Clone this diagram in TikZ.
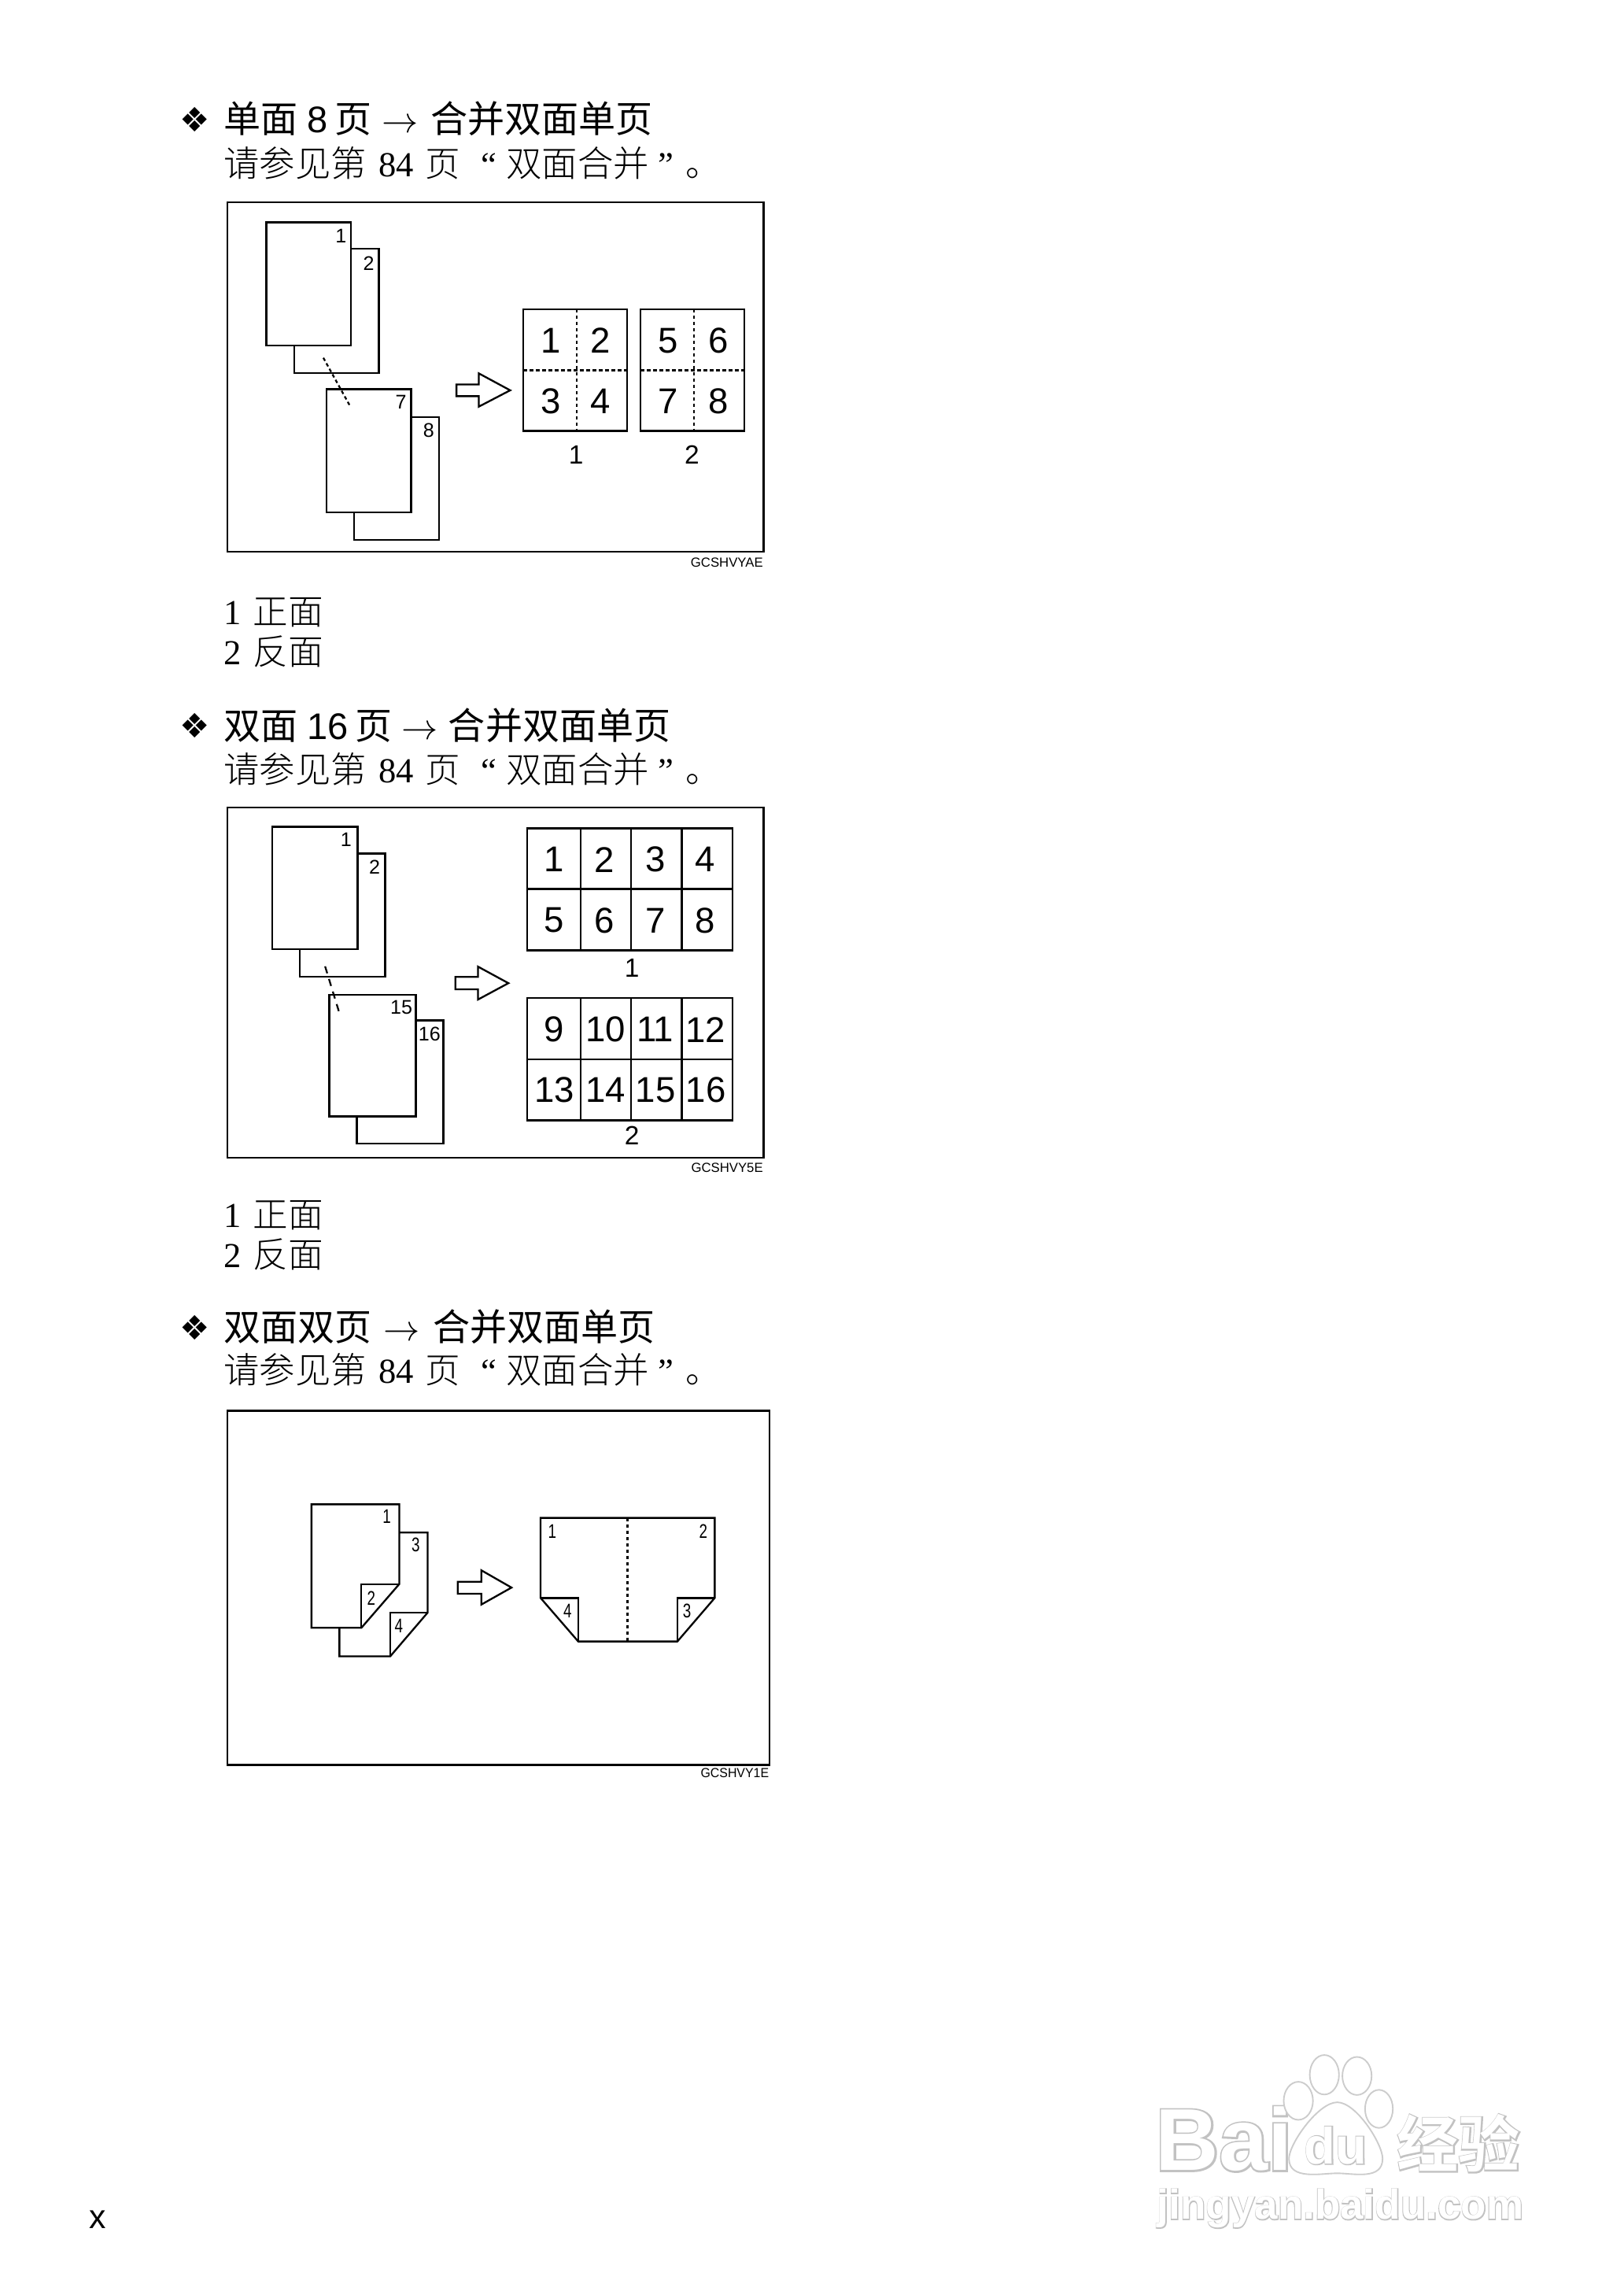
\documentclass[tikz,border=0pt]{standalone}
\usepackage{fontspec}
\setmainfont{Liberation Serif}
\newfontfamily\hv{Liberation Sans}
\newfontfamily\hvb{Liberation Sans Bold}
\newfontfamily\hvhalo{Liberation Sans Bold}[FakeBold=4]
\newfontfamily\cjks{Noto Sans CJK SC}
\newfontfamily\cjkb{Noto Sans CJK SC Bold}
\newfontfamily\cjkl{Noto Sans CJK SC Light}
\newfontfamily\cjkhalo{Noto Sans CJK SC Bold}[FakeBold=4]
\newfontfamily\djv{DejaVu Sans}
\newcommand\fs[1]{\fontsize{#1}{#1}\selectfont}
\newcommand\hgap[1]{\hspace*{#1pt}}
\newcommand\arr{$\rightarrow$}
\newcommand\bodyline{{\fs{24.4}\cjkl 请参见第}\hgap{8.2}84\hgap{8}{\cjkl 页}\hgap{14}“\hgap{6.5}{\fs{24.4}\cjkl 双面合并}\hgap{6.5}”\hgap{8}{\cjkl 。}}
\tikzset{
  txt/.style={inner sep=0pt,outer sep=0pt},
  head/.style={txt,anchor=base west,font=\fs{25.3}\cjks},
  body/.style={txt,anchor=base west,font=\fs{24}},
  small/.style={txt,font=\fs{13.5}\hv},
  big/.style={txt,font=\fs{24.5}\hv},
  mid/.style={txt,font=\fs{18}\hv},
  code/.style={txt,anchor=base east,font=\fs{9}\hv},
  bul/.style={txt,font=\fs{23}\djv},
  ln/.style={line width=1.25pt,line join=miter,line cap=butt},
  fine/.style={line width=1.2pt,dash pattern=on 2.4pt off 1.9pt},
  longd/.style={line width=1.2pt,dash pattern=on 5pt off 4pt},
  halo/.style={txt,text=black!24},
  wm/.style={txt,text=white},
  wml/.style={draw=black!20,line width=1pt,fill=white}
}
\begin{document}
\begin{tikzpicture}[x=1pt,y=-1pt]
\useasboundingbox (0,0) rectangle (1110,1568.2);
\fill[white] (0,0) rectangle (1110,1568.2);

% ---------- section 1
\node[bul] (b1) at (133,82) {❖};
\node[head] (h1) at (153,90.6) {单面\hgap{6.4}{\hv 8}\hgap{5}页\hgap{6.7}\arr\hgap{8.5}合并双面单页};
\node[body] (l1) at (153,120.6) {\bodyline};
\draw[ln] (155.5,138.3) rectangle (522,377);
\node[code] (c1) at (521.5,387.5) {GCSHVYAE};
\draw[ln,fill=white] (201,236) -- (201,255) -- (259,255) -- (259,170) -- (240,170);
\draw[ln,fill=white] (182,152) rectangle (240,236);
\node[small] (p1) at (233,161) {1};
\node[small] (p2) at (252,180) {2};
\draw[ln,fill=white] (242,350) -- (242,369) -- (300,369) -- (300,285) -- (281,285);
\draw[ln,fill=white] (223,266) rectangle (281,350);
\node[small] (p7) at (274,275) {7};
\node[small] (p8) at (293,294) {8};
\draw[fine] (221,244.5) -- (239,277);
\draw[ln] (312,262.7) -- (327.2,262.7) -- (327.2,255.1) -- (348.7,266.7) -- (327.2,277.9) -- (327.2,270.7) -- (312,270.7) -- cycle;
\draw[ln] (357.7,211.2) rectangle (428.6,294.5);
\draw[fine] (394,211.2) -- (394,294.5);
\draw[fine] (357.7,253) -- (428.6,253);
\draw[ln] (437.9,211.2) rectangle (508.9,294.5);
\draw[fine] (474.2,211.2) -- (474.2,294.5);
\draw[fine] (437.9,253) -- (508.9,253);
\foreach \t/\x/\y in {1/376.5/232.9,2/410.6/232.9,3/376.5/274.2,4/410.6/274.2,5/456.8/232.9,6/490.9/232.9,7/456.8/274.2,8/490.9/274.2}
  \node[big] (a\t) at (\x,\y) {\t};
\node[mid] (s1) at (393.7,310.9) {1};
\node[mid] (s2) at (473,310.9) {2};
\node[body] (g1) at (153,427) {1\hgap{8}{\cjkl 正面}};
\node[body] (g2) at (153,454) {2\hgap{8}{\cjkl 反面}};

% ---------- section 2
\node[bul] (b2) at (133,496) {❖};
\node[head] (h2) at (153,505.4) {双面\hgap{6.4}{\hv 16}\hgap{4.5}页\hgap{6.7}\arr\hgap{7}合并双面单页};
\node[body] (l2) at (153,534.8) {\bodyline};
\draw[ln] (155.5,551.7) rectangle (522,791);
\node[code] (c2) at (521.5,800.8) {GCSHVY5E};
\draw[ln,fill=white] (205,648.5) -- (205,667.5) -- (263.3,667.5) -- (263.3,583.3) -- (244.5,583.3);
\draw[ln,fill=white] (185.9,564.9) rectangle (244.5,648.5);
\node[small] (q1) at (236.6,573.7) {1};
\node[small] (q2) at (256,592.5) {2};
\draw[ln,fill=white] (243.9,762.9) -- (243.9,781.4) -- (303,781.4) -- (303,697.2) -- (284.2,697.2);
\draw[ln,fill=white] (225,679.6) rectangle (284.2,762.9);
\node[small] (q15) at (274.3,688.1) {15};
\node[small] (q16) at (293.5,706.4) {16};
\draw[longd] (222.2,660.3) -- (232.6,694.3);
\draw[ln] (311.2,667.5) -- (326.7,667.5) -- (326.7,660.5) -- (347.5,671.8) -- (326.7,683) -- (326.7,676) -- (311.2,676) -- cycle;
\draw[ln] (360.2,566) rectangle (500.7,649.3);
\draw[ln] (360.2,607.5) -- (500.7,607.5);
\draw[ln] (396.8,566) -- (396.8,649.3) (431.4,566) -- (431.4,649.3) (466,566) -- (466,649.3);
\draw[ln] (360.2,682) rectangle (500.7,765.6);
\draw[ln] (360.2,723.8) -- (500.7,723.8);
\draw[ln] (396.8,682) -- (396.8,765.6) (431.4,682) -- (431.4,765.6) (466,682) -- (466,765.6);
\foreach \t/\x/\y in {1/378.8/587.4,2/413.1/587.4,3/447.8/587.4,4/481.9/587.4,5/378.8/628.9,6/413.1/628.9,7/447.8/628.9,8/481.9/628.9,9/378.8/703.5,10/413.8/703.5,11/447.8/703.5,12/482.2/703.5,13/379/744.7,14/413.8/744.7,15/448/744.7,16/482.4/744.7}
  \node[big] (d\t) at (\x,\y) {\t};
\node[mid] (t1) at (432,661.6) {1};
\node[mid] (t2) at (432,776) {2};
\node[body] (g3) at (153,838.5) {1\hgap{8}{\cjkl 正面}};
\node[body] (g4) at (153,866) {2\hgap{8}{\cjkl 反面}};

% ---------- section 3
\node[bul] (b3) at (133,907) {❖};
\node[head] (h3) at (153,916) {双面双页\hgap{8}\arr\hgap{9}合并双面单页};
\node[body] (l3) at (153,945) {\bodyline};
\draw[ln] (155.5,964) rectangle (526,1206);
\node[code] (c3) at (525.5,1214.5) {\scalebox{.95}[1]{GCSHVY1E}};
\draw[ln,fill=white] (232,1112.3) -- (232,1131.8) -- (266.7,1131.8) -- (292.3,1101.9) -- (292.3,1047.2) -- (272.9,1047.2);
\draw[ln] (266.7,1131.8) -- (266.7,1101.9) -- (292.3,1101.9);
\draw[ln,fill=white] (212.9,1027.9) -- (272.9,1027.9) -- (272.9,1082.4) -- (247,1112.3) -- (212.9,1112.3) -- cycle;
\draw[ln] (247,1112.3) -- (247,1082.4) -- (272.9,1082.4);
\node[small] (r1) at (264.4,1036.3) {\scalebox{.75}[1]{1}};
\node[small] (r3) at (284.2,1055.6) {\scalebox{.75}[1]{3}};
\node[small] (r2) at (253.8,1091.9) {\scalebox{.75}[1]{2}};
\node[small] (r4) at (272.6,1111.2) {\scalebox{.75}[1]{4}};
\draw[ln] (312.9,1080.8) -- (329,1080.8) -- (329,1073) -- (349.6,1084.8) -- (329,1096.4) -- (329,1089) -- (312.9,1089) -- cycle;
\draw[ln] (369.5,1037.2) -- (488.5,1037.2) -- (488.5,1091.9) -- (463,1121.6) -- (395.2,1121.6) -- (369.5,1091.9) -- cycle;
\draw[ln] (369.5,1091.9) -- (395.2,1091.9) -- (395.2,1121.6);
\draw[ln] (488.5,1091.9) -- (463,1091.9) -- (463,1121.6);
\draw[fine] (428.9,1037.2) -- (428.9,1121.6);
\node[small] (u1) at (377.4,1046.5) {\scalebox{.75}[1]{1}};
\node[small] (u2) at (480.7,1046.5) {\scalebox{.75}[1]{2}};
\node[small] (u4) at (388,1101) {\scalebox{.75}[1]{4}};
\node[small] (u3) at (469.5,1101) {\scalebox{.75}[1]{3}};

% ---------- page mark
\node[txt,anchor=base west,font=\fs{23}\hv] (pg) at (61,1523) {x};

% ---------- watermark
\node[halo,anchor=base west,font=\fs{60}\hvhalo] (wa) at (790,1483) {Bai};
\node[wm,anchor=base west,font=\fs{60}\hvb] (wb) at (790,1483) {Bai};
\draw[wml] (887.4,1435.5) ellipse (10 and 13);
\draw[wml] (905.2,1417.7) ellipse (10 and 13.5);
\draw[wml] (927.5,1418.5) ellipse (10 and 13);
\draw[wml] (942.5,1441) ellipse (9.5 and 13);
\draw[wml] (914,1436.5) .. controls (927,1436.5) and (945,1465) .. (945,1475)
   .. controls (945,1490) and (925,1485) .. (914,1485)
   .. controls (903,1485) and (881,1490) .. (881,1475)
   .. controls (881,1465) and (901,1436.5) .. (914,1436.5) -- cycle;
\node[halo,font=\fs{35}\hvhalo] (wc) at (913,1466) {du};
\node[wm,font=\fs{35}\hvb] (wd) at (913,1466) {du};
\node[halo,anchor=base west,font=\fs{42}\cjkhalo] (we) at (955,1481) {经验};
\node[wm,anchor=base west,font=\fs{42}\cjkb] (wf) at (955,1481) {经验};
\node[halo,anchor=base west,font=\fs{28.5}\hvhalo] (wg) at (791,1516.5) {jingyan.baidu.com};
\node[wm,anchor=base west,font=\fs{28.5}\hvb] (wh) at (791,1516.5) {jingyan.baidu.com};
\end{tikzpicture}
\end{document}
